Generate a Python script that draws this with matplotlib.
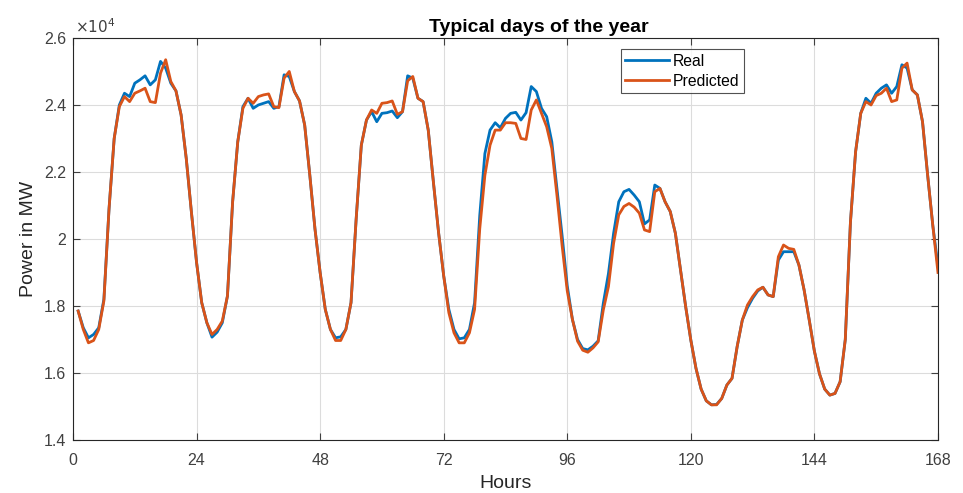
import numpy as np
import matplotlib
matplotlib.use("Agg")
import matplotlib.pyplot as plt
from matplotlib.ticker import FuncFormatter

plt.rcParams['font.family'] = ['Liberation Sans', 'DejaVu Sans']

# hourly load, one week (hours 1..168)
hours = np.arange(1, 169)

real = [
    # day 1
    17850, 17350, 17050, 17150, 17350, 18200, 20900, 23000, 24000, 24350, 24250, 24650,
    24750, 24870, 24600, 24750, 25300, 25100, 24650, 24420, 23700, 22400, 20800, 19300,
    # day 2
    18100, 17500, 17070, 17220, 17500, 18300, 21100, 22900, 23950, 24200, 23900, 24000,
    24050, 24100, 23900, 23950, 24900, 24850, 24400, 24120, 23400, 21900, 20300, 19000,
    # day 3
    17900, 17300, 17050, 17080, 17300, 18100, 20600, 22800, 23550, 23800, 23500, 23750,
    23770, 23820, 23620, 23800, 24870, 24800, 24200, 24100, 23250, 21700, 20200, 18900,
    # day 4
    17900, 17300, 17020, 17050, 17300, 18100, 20700, 22550, 23250, 23470, 23320, 23600,
    23750, 23780, 23550, 23770, 24550, 24400, 23900, 23650, 22900, 21500, 20100, 18600,
    # day 5
    17600, 17000, 16730, 16690, 16800, 16960, 18080, 18970, 20170, 21110, 21410, 21480,
    21310, 21110, 20450, 20570, 21610, 21510, 21110, 20820, 20170, 19070, 17980, 16980,
    # day 6
    16140, 15520, 15170, 15050, 15060, 15240, 15640, 15840, 16790, 17580, 17950, 18230,
    18450, 18560, 18330, 18280, 19370, 19620, 19620, 19620, 19220, 18480, 17580, 16650,
    # day 7
    15970, 15520, 15340, 15390, 15740, 17000, 20500, 22600, 23750, 24200, 24050, 24350,
    24500, 24600, 24350, 24550, 25200, 25100, 24450, 24300, 23500, 21900, 20400, 19200,
]

predicted = [
    17850, 17300, 16900, 16970, 17300, 18150, 20900, 23000, 23950, 24250, 24100, 24350,
    24420, 24500, 24100, 24070, 24950, 25350, 24700, 24420, 23700, 22400, 20800, 19300,
    18100, 17500, 17150, 17300, 17550, 18300, 21100, 22900, 23900, 24200, 24050, 24250,
    24300, 24330, 23950, 23920, 24800, 25000, 24400, 24120, 23400, 21900, 20300, 19000,
    17900, 17300, 16970, 16970, 17300, 18100, 20600, 22800, 23550, 23850, 23750, 24050,
    24070, 24120, 23720, 23800, 24720, 24850, 24200, 24100, 23250, 21700, 20200, 18900,
    17800, 17200, 16900, 16900, 17200, 17900, 20300, 21900, 22800, 23250, 23250, 23470,
    23470, 23450, 23000, 22970, 23850, 24150, 23750, 23350, 22700, 21300, 19800, 18450,
    17600, 16950, 16680, 16620, 16750, 16930, 17880, 18580, 19870, 20720, 20970, 21060,
    20950, 20770, 20270, 20220, 21410, 21510, 21110, 20820, 20170, 19070, 17980, 16980,
    16140, 15520, 15170, 15050, 15050, 15240, 15640, 15840, 16790, 17580, 18030, 18280,
    18480, 18560, 18330, 18280, 19470, 19820, 19720, 19690, 19220, 18480, 17580, 16650,
    15970, 15520, 15340, 15390, 15740, 17000, 20500, 22600, 23750, 24100, 24000, 24280,
    24350, 24500, 24100, 24150, 25100, 25250, 24450, 24300, 23500, 21900, 20400, 19000,
]

xticks = [0, 24, 48, 72, 96, 120, 144, 168]
yticks = [14000, 16000, 18000, 20000, 22000, 24000, 26000]

fig = plt.figure(figsize=(9.63, 4.93), dpi=100)
ax = fig.add_axes([0.0758, 0.1075, 0.8982, 0.8155])

ax.plot(hours, real, color='#0072BD', linewidth=2.0, label='Real')
ax.plot(hours, predicted, color='#D95319', linewidth=2.0, label='Predicted')

ax.set_xlim(0, 168)
ax.set_ylim(14000, 26000)
ax.set_xticks(xticks)
ax.set_yticks(yticks)
# tick labels in units of 1e4, exponent written above the axis like matlab
ax.yaxis.set_major_formatter(FuncFormatter(lambda v, p: f'{v / 1e4:g}'))
ax.text(0.002, 1.006, r'$\times10^{4}$', transform=ax.transAxes,
        ha='left', va='bottom', fontsize=11, color='#404040')

# matlab-ish look
ax.grid(True, color='#dcdcdc', linewidth=0.8)
ax.set_axisbelow(True)
ax.tick_params(direction='in', top=True, right=True, labelsize=11.5,
               colors='#404040', length=5)
ax.tick_params(axis='x', pad=9.3)
ax.tick_params(axis='y', pad=5)
for s in ax.spines.values():
    s.set_color('#262626')
    s.set_linewidth(0.8)

ax.set_title('Typical days of the year', fontsize=14, fontweight='bold',
             x=0.539, pad=4)
ax.set_xlabel('Hours', fontsize=14, color='#262626', labelpad=5)
ax.set_ylabel('Power in MW', fontsize=14, color='#262626', labelpad=5)

leg = ax.legend(loc='upper left', bbox_to_anchor=(0.633, 0.972), fontsize=11.3,
                frameon=True, fancybox=False, handlelength=2.8, handletextpad=0.25,
                borderpad=0.3, labelspacing=0.3, borderaxespad=0)
leg.get_frame().set_edgecolor('#262626')
leg.get_frame().set_linewidth(0.8)

fig.savefig('out.png', dpi=100)
